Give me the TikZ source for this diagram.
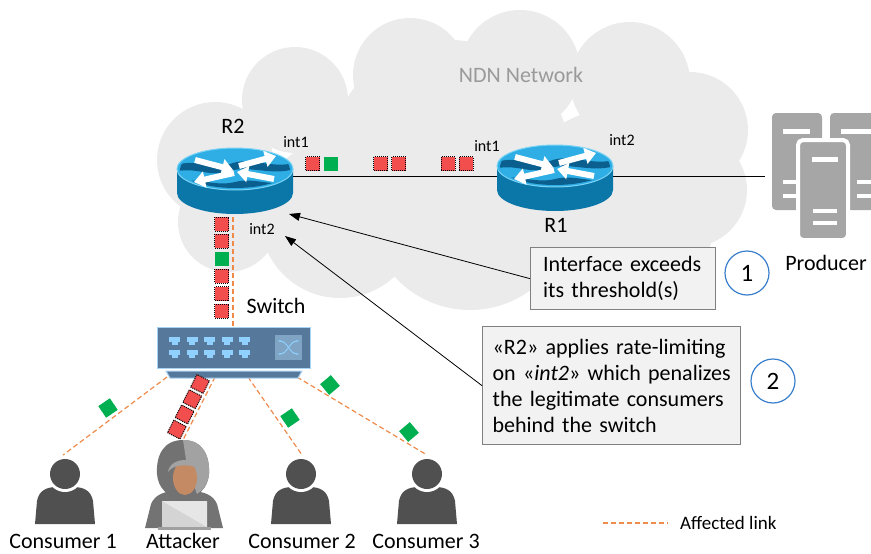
\documentclass[tikz,border=0pt]{standalone}
\usepackage{fontspec}
\setmainfont{Carlito}
\usetikzlibrary{arrows.meta}

\definecolor{cloudgrey}{HTML}{EBEBEB}
\definecolor{labelgrey}{HTML}{9A9A9A}
\definecolor{rtside}{HTML}{0B76A8}
\definecolor{rttop}{HTML}{2EAEE5}
\definecolor{rtrim}{HTML}{7AD3F5}
\definecolor{rtwave}{HTML}{0A5F8E}
\definecolor{pktred}{HTML}{F24E4E}
\definecolor{pktgreen}{HTML}{00B050}
\definecolor{linkorange}{HTML}{F08A4B}
\definecolor{swbody}{HTML}{56789A}
\definecolor{swedge}{HTML}{A8D2F2}
\definecolor{swport}{HTML}{8FD0FF}
\definecolor{swsym}{HTML}{7FA4C4}
\definecolor{persongrey}{HTML}{505050}
\definecolor{hooddark}{HTML}{727272}
\definecolor{hoodlight}{HTML}{A2A2A2}
\definecolor{attbody}{HTML}{737373}
\definecolor{skin}{HTML}{C48A64}
\definecolor{laptopgrey}{HTML}{D4D4D4}
\definecolor{laptoplight}{HTML}{E6E6E6}
\definecolor{laptopbase}{HTML}{A0A0A0}
\definecolor{servergrey}{HTML}{A6A6A6}
\definecolor{boxfill}{HTML}{F2F2F2}
\definecolor{boxedge}{HTML}{808080}
\definecolor{numblue}{HTML}{3A7FCC}

\tikzset{
  lbl/.style={font=\fontsize{22}{26}\selectfont, inner sep=0pt},
  smalllbl/.style={font=\fontsize{16}{19}\selectfont, inner sep=0pt},
  redpkt/.style={draw=black, densely dotted, line width=1pt, fill=pktred,
    minimum size=14pt, inner sep=0pt},
  greenpkt/.style={fill=pktgreen, minimum size=14pt, inner sep=0pt},
  affected/.style={draw=linkorange, line width=1.2pt, dash pattern=on 5pt off 3pt},
  wire/.style={draw=black, line width=1pt},
  callout/.style={draw=boxedge, line width=1.3pt, fill=boxfill,
    font=\fontsize{22}{26}\selectfont, align=left, anchor=north west, inner ysep=0pt},
  numcirc/.style={circle, draw=numblue, line width=1.2pt, fill=white,
    minimum size=44pt, inner sep=0pt, font=\fontsize{25}{28}\selectfont},
  callarrow/.style={draw=black, line width=0.8pt, -{Triangle[length=11pt,width=8pt]}},
  rtarrow/.style={draw=white, line width=6pt, -{Triangle[length=11pt,width=16pt]}},
  pics/router/.style={code={
    % cylinder wall
    \fill[rtside] (-58,0) -- (-58,24)
      arc[start angle=180, end angle=360, x radius=58pt, y radius=21pt]
      -- (58,0) -- cycle;
    % top face
    \fill[rttop, draw=rtrim, line width=1pt] (0,0) ellipse[x radius=58pt, y radius=21pt];
    \begin{scope}
      \clip (0,0) ellipse[x radius=55pt, y radius=19pt];
      \fill[rtwave] (-60,-3) .. controls (-40,-12) and (-25,2) .. (-5,-5)
        .. controls (15,-13) and (35,0) .. (60,-6) -- (60,0)
        .. controls (35,7) and (15,-4) .. (-5,2)
        .. controls (-25,9) and (-40,-3) .. (-60,3) -- cycle;
      \fill[rtwave] (-60,13) .. controls (-35,8) and (-20,18) .. (0,13)
        .. controls (20,8) and (35,18) .. (60,13) -- (60,22) -- (-60,22) -- cycle;
    \end{scope}
    % traffic arrows
    \draw[rtarrow] (-40,-9) -- (-2,1);
    \draw[rtarrow] (4,-3) -- (41,-13);
    \draw[rtarrow] (-1,4) -- (-41,13);
    \draw[rtarrow] (39,10) -- (2,3);
  }},
  pics/person/.style={code={
    \fill[persongrey] (-30,50) -- (-28,27) .. controls (-26,16) and (-18,13) .. (-8,13)
      -- (8,13) .. controls (18,13) and (26,16) .. (28,27) -- (30,50) -- cycle;
    \fill[white] (0,0) circle[radius=18pt];
    \fill[persongrey] (0,0) circle[radius=15pt];
  }},
  pics/attacker/.style={code={
    % shoulders
    \fill[attbody] (-38,58) -- (-32,34) .. controls (-28,25) and (-20,22) .. (-10,21)
      -- (10,21) .. controls (22,22) and (30,25) .. (34,34) -- (40,58) -- cycle;
    % hood
    \fill[hooddark] (0,-30) .. controls (-20,-30) and (-27,-14) .. (-26,4)
      .. controls (-25,18) and (-16,26) .. (0,32)
      .. controls (16,26) and (25,18) .. (26,4)
      .. controls (27,-14) and (20,-30) .. (0,-30) -- cycle;
    \fill[hoodlight] (0,-30) .. controls (20,-30) and (27,-14) .. (26,4)
      .. controls (25,14) and (20,20) .. (14,24) -- (4,-4) -- cycle;
    % face
    \fill[skin] (2,8) ellipse[x radius=12pt, y radius=17pt];
    \fill[hoodlight] (-15,2) .. controls (-13,-14) and (17,-14) .. (19,2)
      .. controls (14,-7) and (-10,-7) .. (-15,2) -- cycle;
    % laptop
    \fill[laptopgrey] (-21,31) rectangle (24,57);
    \fill[laptoplight] (-21,31) -- (24,31) -- (24,57) -- cycle;
    \fill[laptopbase] (-25,57) rectangle (28,60);
  }}
}

\begin{document}
\begin{tikzpicture}[x=1pt, y=-1pt]
\useasboundingbox (0,0) rectangle (871,554);

% ---------- NDN cloud ----------
\begin{scope}[fill=cloudgrey]
  \fill (295,100) circle[radius=53pt];
  \fill (410,75) circle[radius=57pt];
  \fill (520,70) circle[radius=60pt];
  \fill (630,82) circle[radius=60pt];
  \fill (690,130) circle[radius=58pt];
  \fill (690,190) circle[radius=57pt];
  \fill (215,160) circle[radius=58pt];
  \fill (228,222) circle[radius=50pt];
  \fill (340,218) circle[radius=80pt];
  \fill (470,208) circle[radius=102pt];
  \fill (610,200) circle[radius=90pt];
  \fill (665,230) circle[radius=48pt];
  \fill (450,160) circle[radius=120pt];
\end{scope}
\node[lbl, text=labelgrey] (ndn) at (521,75) {NDN Network};

% ---------- anchor points of the links ----------
\coordinate (r2int1) at (293,176);
\coordinate (r1int1) at (497,176);
\coordinate (r1int2) at (613,176);
\coordinate (prodin) at (765,176);
\coordinate (r2int2) at (233,217);
\coordinate (swtop) at (233,327);
\coordinate (swc1) at (167,377);
\coordinate (swatt) at (215,377);
\coordinate (swc2) at (248,377);
\coordinate (swc3) at (297,377);
\coordinate (c1top) at (63,455);
\coordinate (atttop) at (183,440);
\coordinate (c2top) at (302,455);
\coordinate (c3top) at (427,455);

% ---------- links ----------
\draw[wire] (r2int1) -- (r1int1);
\draw[wire] (r1int2) -- (prodin);
\draw[affected] (r2int2) -- (swtop);
\draw[affected] (swc1) -- (c1top);
\draw[affected] (swatt) -- (atttop);
\draw[affected] (swc2) -- (c2top);
\draw[affected] (swc3) -- (c3top);

% ---------- routers ----------
\pic at (235,169) {router};
\pic at (555,166) {router};
\node[minimum width=116pt, minimum height=67pt, inner sep=0pt] (R2) at (235,181) {};
\node[minimum width=116pt, minimum height=67pt, inner sep=0pt] (R1) at (555,178) {};
\node[lbl] (lR2) at (233,126) {R2};
\node[lbl] (lR1) at (556,225) {R1};
\node[smalllbl] (lr2i1) at (296,142) {int1};
\node[smalllbl] (lr2i2) at (262,229) {int2};
\node[smalllbl] (lr1i1) at (487,146) {int1};
\node[smalllbl] (lr1i2) at (622,140) {int2};

% ---------- packets R2 <-> R1 ----------
\node[redpkt] (h1) at (312.5,163.5) {};
\node[greenpkt] (h2) at (330.5,163.5) {};
\node[redpkt] (h3) at (380.5,163.5) {};
\node[redpkt] (h4) at (398.5,163.5) {};
\node[redpkt] (h5) at (448,163.5) {};
\node[redpkt] (h6) at (466,163.5) {};

% ---------- packets R2 <-> switch ----------
\node[redpkt] (v1) at (221.5,224) {};
\node[redpkt] (v2) at (221.5,241) {};
\node[greenpkt] (v3) at (221.5,258.5) {};
\node[redpkt] (v4) at (221.5,276) {};
\node[redpkt] (v5) at (221.5,293.5) {};
\node[redpkt] (v6) at (221.5,311) {};

% ---------- switch ----------
\draw[draw=swedge, line width=1pt, fill=swbody] (157,327) rectangle (310,368);
\draw[draw=swedge, line width=1pt, fill=swbody] (166,371) -- (302,371) -- (298,378) -- (170,378) -- cycle;
\foreach \px in {169,186.5,204,221.5,239}{
  \foreach \py in {337,350}{
    \fill[swport] (\px,\py) rectangle ++(11,5);
    \fill[swport] (\px+2.5,\py+5) rectangle ++(6,3);
  }
}
\fill[swsym] (275,335) rectangle (302,360);
\draw[swport, line width=1pt, {Stealth[length=3pt]}-{Stealth[length=3pt]}]
  (278,341) .. controls (288,341) and (289,354) .. (299,354);
\draw[swport, line width=1pt, {Stealth[length=3pt]}-{Stealth[length=3pt]}]
  (278,354) .. controls (288,354) and (289,341) .. (299,341);
\node[lbl] (lsw) at (276,306) {Switch};

% ---------- packets switch <-> hosts ----------
\node[greenpkt, rotate=34] (g1) at (108,408) {};
\node[greenpkt, rotate=34] (g2) at (290,418) {};
\node[greenpkt, rotate=40] (g3) at (330,385) {};
\node[greenpkt, rotate=40] (g4) at (409,432) {};
\node[redpkt, rotate=-27] (a1) at (200,384) {};
\node[redpkt, rotate=-27] (a2) at (192.3,399.2) {};
\node[redpkt, rotate=-27] (a3) at (184.6,414.4) {};
\node[redpkt, rotate=-27] (a4) at (176.9,429.6) {};

% ---------- hosts ----------
\pic at (65,474) {person};
\pic at (183,470) {attacker};
\pic at (301,474) {person};
\pic at (427,474) {person};
\node[lbl] (lc1) at (63,541) {Consumer 1};
\node[lbl] (latt) at (183,541) {Attacker};
\node[lbl] (lc2) at (302,541) {Consumer 2};
\node[lbl] (lc3) at (426,541) {Consumer 3};

% ---------- producer ----------
\fill[servergrey, rounded corners=4pt] (772,113) rectangle (822,210);
\fill[servergrey, rounded corners=4pt] (830,113) rectangle (884,210);
\fill[white] (783,129) rectangle (810,134);
\fill[white] (783,180) rectangle (800,184);
\fill[white] (783,194) rectangle (800,198);
\fill[white] (841,129) rectangle (871,134);
\fill[white] (857,180) rectangle (871,184);
\fill[white] (857,194) rectangle (871,198);
\draw[white, line width=4pt, fill=servergrey, rounded corners=5pt] (798,140) rectangle (848,240);
\fill[white] (812,157) rectangle (838,162);
\fill[white] (813,209) rectangle (837,213);
\fill[white] (813,221) rectangle (837,225);
\node[lbl] (lprod) at (826,263) {Producer};

% ---------- callouts ----------
\node[callout, text width=160pt, inner xsep=12.5pt, minimum height=62pt] (box1) at (530,247)
  {\mbox{Interface exceeds}\\\mbox{its threshold(s)}};
\node[callout, text width=238pt, inner xsep=10pt, minimum height=118pt] (box2) at (482,326)
  {\mbox{«R2» applies rate-limiting}\\\mbox{on «\textit{int2}» which penalizes}\\\mbox{the legitimate consumers}\\\mbox{behind the switch}};
\coordinate (r2a) at (289,214);
\coordinate (r2b) at (285,236);
\draw[callarrow] (box1.west) -- (r2a);
\draw[callarrow] (box2.west) -- (r2b);
\node[numcirc] (n1) at (747,273) {1};
\node[numcirc] (n2) at (773,381) {2};

% ---------- legend ----------
\coordinate (lg1) at (603,523);
\coordinate (lg2) at (668,523);
\draw[affected] (lg1) -- (lg2);
\node[font=\fontsize{19}{22}\selectfont, inner sep=0pt, anchor=west] (lgt) at (680,523) {Affected link};

\end{tikzpicture}
\end{document}
